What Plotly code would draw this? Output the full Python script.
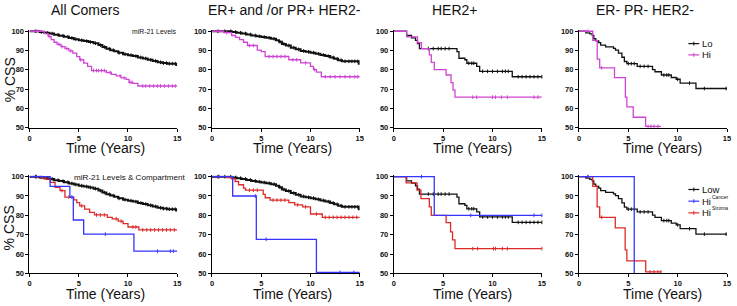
import plotly.graph_objects as go

# ---------------- data (time in years, % CSS) ----------------
panel_titles = ["All Comers", "ER+ and /or PR+ HER2-", "HER2+", "ER- PR- HER2-"]
x_title = "Time (Years)"
y_title = "% CSS"
x_ticks = [0, 5, 10, 15]
y_ticks = [50, 60, 70, 80, 90, 100]

# All comers
all_lo_t = [0, 1.0, 1.5, 2.0, 2.5, 3.0, 3.5, 4.0, 4.5, 5.0, 5.5, 6.0, 6.5, 7.0, 7.4, 7.8, 8.2, 8.6, 9.0, 9.5,
            10.0, 10.5, 11.0, 11.5, 12.0, 12.5, 13.0, 13.5, 14.0, 14.9]
all_lo_s = [100, 99.6, 99.2, 98.8, 98.2, 97.7, 97.1, 96.5, 95.9, 95.3, 94.9, 94.4, 93.8, 92.8, 91.8, 90.9, 90.2,
            89.6, 88.8, 88.1, 87.6, 87.1, 86.4, 85.9, 85.2, 84.6, 83.9, 83.5, 83.2, 82.5]
all_lo_c = [0.6, 1.2, 1.8, 2.3, 2.9, 3.4, 3.9, 4.3, 4.7, 5.3, 5.8, 6.2, 6.7, 7.2, 7.6, 8.1, 8.5, 9.1, 9.7, 10.3,
            10.8, 11.3, 11.8, 12.3, 12.8, 13.3, 13.6, 13.9, 14.2, 14.5, 14.8]

all_hi_t = [0, 1.5, 1.9, 2.2, 2.5, 2.8, 3.2, 3.6, 4.0, 4.4, 4.8, 5.1, 5.5, 5.9, 6.3, 7.8, 8.3, 8.8, 9.3, 9.8,
            10.1, 10.5, 11.0]
all_hi_s = [100, 98.8, 97.3, 95.6, 94.3, 93.2, 92.0, 91.0, 89.8, 88.6, 86.8, 85.2, 83.5, 81.8, 79.6, 78.6, 77.6,
            76.8, 75.8, 75.0, 73.5, 73.0, 71.6]
all_hi_c = [0.7, 0.9, 2.0, 3.0, 3.3, 3.8, 4.2, 5.2, 6.5, 6.8, 7.0, 7.3, 7.6, 8.2, 9.2, 9.6, 10.2, 10.4, 11.5,
            11.8, 12.2, 12.6, 13.0, 13.3, 13.7, 14.1, 14.5, 14.8]

all_stroma_t = [0, 1.2, 1.6, 2.1, 2.6, 3.1, 3.6, 4.5, 4.8, 5.1, 5.6, 6.1, 6.6, 7.9, 8.4, 9.0, 9.5, 10.0, 11.1]
all_stroma_s = [100, 99.4, 98.7, 97.0, 94.5, 92.8, 89.4, 88.0, 86.6, 84.9, 83.2, 81.5, 80.2, 79.0, 78.2, 77.0,
                75.7, 74.0, 72.5]
all_stroma_c = [0.7, 3.3, 4.0, 5.3, 6.8, 7.2, 7.6, 8.8, 9.3, 10.5, 10.8, 11.5, 11.9, 12.3, 12.7, 13.1, 13.5,
                13.9, 14.3, 14.7]

all_cancer_t = [0, 2.1, 4.1, 4.45, 5.5, 10.6]
all_cancer_s = [100, 95.0, 89.4, 77.6, 70.3, 61.5]
all_cancer_c = [0.7, 4.3, 7.7, 13.0, 14.3, 14.6]

# ER+ and/or PR+ HER2-
er_lo_t = [0, 2.0, 2.5, 3.0, 3.5, 4.0, 4.5, 5.0, 5.5, 6.0, 6.5, 6.8, 7.1, 7.5, 8.0, 8.5, 9.0, 9.5, 10.0, 10.5,
           11.0, 11.5, 12.0, 12.4, 12.8, 13.2, 14.9]
er_lo_s = [100, 99.6, 99.2, 98.8, 98.3, 97.8, 97.4, 97.0, 96.6, 96.1, 95.3, 94.5, 93.4, 92.6, 91.5, 90.6, 89.8,
           89.3, 88.9, 88.3, 87.7, 87.1, 86.4, 85.7, 85.0, 84.4, 83.2]
er_lo_c = [0.6, 1.3, 1.9, 2.4, 2.9, 3.4, 3.9, 4.4, 4.8, 5.3, 5.8, 6.3, 6.9, 7.3, 7.8, 8.3, 8.8, 9.3, 9.8, 10.3,
           10.8, 11.3, 11.8, 12.3, 12.7, 13.1, 13.5, 13.9, 14.2, 14.5, 14.8]

er_hi_t = [0, 1.2, 2.0, 2.4, 2.8, 3.2, 3.6, 4.6, 5.0, 5.4, 7.8, 9.0, 10.0, 10.3, 10.6, 11.1]
er_hi_s = [100, 99.3, 97.8, 96.8, 95.6, 94.3, 92.6, 90.2, 89.4, 86.9, 85.2, 83.6, 81.8, 80.1, 78.8, 76.4]
er_hi_c = [0.7, 1.5, 3.8, 4.2, 5.8, 6.2, 6.6, 7.0, 7.4, 8.2, 8.6, 9.5, 10.4, 11.5, 12.0, 12.5, 13.0, 13.5,
           14.0, 14.5, 14.8]

er_stroma_t = [0, 1.5, 2.0, 2.35, 2.7, 3.2, 3.4, 5.2, 5.4, 5.9, 7.8, 8.4, 9.2, 10.0, 11.2]
er_stroma_s = [100, 99.5, 98.8, 97.5, 95.8, 94.1, 93.0, 90.8, 89.1, 87.9, 86.6, 85.4, 84.4, 80.7, 79.0]
er_stroma_c = [0.7, 3.8, 4.2, 4.6, 6.2, 6.6, 7.0, 7.4, 8.7, 9.5, 10.6, 11.5, 11.9, 12.3, 12.7, 13.1, 13.5,
               13.9, 14.3, 14.7]

er_cancer_t = [0, 2.1, 4.5, 10.6]
er_cancer_s = [100, 90.0, 67.6, 50.5]
er_cancer_c = [0.7, 4.4, 5.5, 13.0, 14.4]

# HER2+
h2_lo_t = [0, 1.3, 1.8, 2.2, 2.4, 2.6, 6.4, 6.6, 7.2, 7.4, 8.4, 8.7, 12.0]
h2_lo_s = [100, 97.8, 96.6, 95.3, 93.6, 91.0, 89.4, 86.0, 85.2, 83.4, 81.8, 79.2, 76.4]
h2_lo_c = [3.5, 4.0, 4.5, 4.8, 5.2, 5.6, 7.6, 7.9, 8.1, 9.0, 9.5, 10.0, 10.5, 11.0, 11.3, 11.6, 12.6, 13.0,
           13.4, 13.8, 14.2, 14.6, 15.0]

h2_hi_t = [0, 1.3, 2.4, 2.8, 3.6, 3.8, 4.1, 5.3, 5.8, 6.0, 6.2]
h2_hi_s = [100, 97.1, 94.1, 91.0, 87.7, 83.8, 80.1, 77.3, 73.4, 69.5, 65.8]
h2_hi_c = [8.0, 8.4, 10.0, 10.3, 10.9, 11.5, 14.2, 14.6]

h2_stroma_t = [0, 1.25, 2.35, 2.75, 3.6, 3.8, 5.3, 5.75, 5.95, 6.2]
h2_stroma_s = [100, 96.8, 93.0, 88.6, 84.4, 80.0, 76.2, 71.5, 67.3, 62.8]
h2_stroma_c = [8.0, 8.5, 10.1, 10.3, 11.0, 11.5, 15.0]

h2_cancer_t = [0, 4.1]
h2_cancer_s = [100, 80.0]
h2_cancer_c = [2.8, 7.8, 14.2, 15.0]

# ER- PR- HER2-
tn_lo_t = [0, 0.7, 1.1, 1.35, 1.5, 1.7, 2.0, 2.2, 2.7, 3.5, 3.7, 4.0, 4.35, 4.6, 4.85, 5.9, 7.45, 7.7, 8.35,
           9.35, 9.85, 10.25, 11.85]
tn_lo_s = [100, 99.2, 98.6, 97.8, 96.1, 95.0, 94.1, 92.8, 91.9, 91.1, 90.2, 88.6, 86.5, 84.3, 83.2, 81.8, 80.1,
           79.0, 77.3, 76.0, 75.1, 73.1, 70.3]
tn_lo_c = [5.0, 5.3, 5.6, 6.2, 6.6, 7.0, 8.6, 8.9, 9.1, 10.0, 11.2, 12.7, 14.9]

tn_hi_t = [0, 1.4, 1.85, 2.1, 3.6, 4.7, 4.85, 5.5, 6.75]
tn_hi_s = [100, 95.3, 85.5, 81.0, 75.9, 65.8, 60.8, 55.4, 50.7]
tn_hi_c = [0.9, 2.3, 7.0, 7.3, 7.6, 8.0]
tn_hi_end = 8.3

tn_stroma_t = [0, 1.4, 1.84, 2.1, 3.68, 4.68, 4.85, 6.76]
tn_stroma_s = [100, 95.0, 84.4, 79.0, 73.5, 62.2, 56.5, 50.8]
tn_stroma_c = [0.9, 2.3, 7.2, 7.6, 8.0, 8.3]
tn_stroma_end = 8.36

tn_cancer_t = [0, 5.6]
tn_cancer_s = [100, 50.0]
tn_cancer_c = [0.9]

legend_top = ["Lo", "Hi"]
legend_bottom = ["Low", "Hi", "Hi"]
legend_bottom_sup = ["", "Cancer", "Stroma"]
note_top = "miR-21 Levels"
note_bottom = "miR-21 Levels & Compartment"

# ---------------- styling ----------------
BLACK = "#111111"
MAG = "#CF45D3"
RED = "#DD2A2A"
BLUE = "#3535FF"
FONT = "Liberation Sans, Arial, sans-serif"
W, H = 737, 306

cols = [(27.7, 176.7), (211.7, 360.7), (395.0, 544.3), (581.7, 731.0)]
rows = [(29.0, 128.0), (178.3, 277.7)]  # (y at 100, y at 50) in px
YTOP = 100.6

fig = go.Figure()


def step_at(ts, ss, t):
    v = ss[0]
    for ti, si in zip(ts, ss):
        if ti <= t:
            v = si
    return v


def add_curve(idx, ts, ss, cens, color, width, end=15.0):
    xa = "x" if idx == 1 else f"x{idx}"
    ya = "y" if idx == 1 else f"y{idx}"
    xs = list(ts) + [end]
    ys = list(ss) + [ss[-1]]
    fig.add_trace(go.Scatter(x=xs, y=ys, mode="lines", line=dict(color=color, width=width, shape="hv"),
                             xaxis=xa, yaxis=ya, showlegend=False, hoverinfo="skip"))
    cy = [step_at(ts, ss, c) for c in cens]
    fig.add_trace(go.Scatter(x=cens, y=cy, mode="markers", cliponaxis=False,
                             marker=dict(symbol="line-ns", size=2.6, line=dict(color=color, width=1)),
                             xaxis=xa, yaxis=ya, showlegend=False, hoverinfo="skip"))


# top row
add_curve(1, all_lo_t, all_lo_s, all_lo_c, BLACK, 2.0)
add_curve(1, all_hi_t, all_hi_s, all_hi_c, MAG, 1.3)
add_curve(2, er_lo_t, er_lo_s, er_lo_c, BLACK, 2.0)
add_curve(2, er_hi_t, er_hi_s, er_hi_c, MAG, 1.3)
add_curve(3, h2_lo_t, h2_lo_s, h2_lo_c, BLACK, 1.3)
add_curve(3, h2_hi_t, h2_hi_s, h2_hi_c, MAG, 1.3)
add_curve(4, tn_lo_t, tn_lo_s, tn_lo_c, BLACK, 1.3)
add_curve(4, tn_hi_t, tn_hi_s, tn_hi_c, MAG, 1.3, end=tn_hi_end)
# bottom row
add_curve(5, all_lo_t, all_lo_s, all_lo_c, BLACK, 2.0)
add_curve(5, all_stroma_t, all_stroma_s, all_stroma_c, RED, 1.3)
add_curve(5, all_cancer_t, all_cancer_s, all_cancer_c, BLUE, 1.3)
add_curve(6, er_lo_t, er_lo_s, er_lo_c, BLACK, 2.0)
add_curve(6, er_stroma_t, er_stroma_s, er_stroma_c, RED, 1.3)
add_curve(6, er_cancer_t, er_cancer_s, er_cancer_c, BLUE, 1.3)
add_curve(7, h2_lo_t, h2_lo_s, h2_lo_c, BLACK, 1.3)
add_curve(7, h2_stroma_t, h2_stroma_s, h2_stroma_c, RED, 1.3)
add_curve(7, h2_cancer_t, h2_cancer_s, h2_cancer_c, BLUE, 1.3)
add_curve(8, tn_lo_t, tn_lo_s, tn_lo_c, BLACK, 1.3)
add_curve(8, tn_stroma_t, tn_stroma_s, tn_stroma_c, RED, 1.3, end=tn_stroma_end)
add_curve(8, tn_cancer_t, tn_cancer_s, tn_cancer_c, BLUE, 1.3, end=tn_cancer_t[-1])

layout = dict(width=W, height=H, margin=dict(l=0, r=0, t=0, b=0), paper_bgcolor="white",
              plot_bgcolor="white", font=dict(family=FONT, color="#111"))
axis_common = dict(showline=True, linecolor="black", linewidth=1, ticks="outside", ticklen=3, tickwidth=1,
                   tickcolor="black", showgrid=False, zeroline=False,
                   tickfont=dict(size=7.5, family=FONT, color="#111", weight="bold"))
idx = 1
for r, (y100, y50) in enumerate(rows):
    ypu = (y50 - y100) / 50.0
    ytop_px = y100 - (YTOP - 100) * ypu
    for c, (x0, x1) in enumerate(cols):
        sx = "" if idx == 1 else str(idx)
        layout[f"xaxis{sx}"] = dict(axis_common, domain=[x0 / W, x1 / W], range=[0, 15], tickvals=x_ticks,
                                    anchor=f"y{sx}")
        layout[f"yaxis{sx}"] = dict(axis_common, domain=[1 - y50 / H, 1 - ytop_px / H], range=[50, YTOP],
                                    tickvals=y_ticks, anchor=f"x{sx}")
        idx += 1
fig.update_layout(**layout)


def px(x, y):
    return x / W, 1 - y / H


ann = []


def text(s, x, y, size, xanchor="center", yanchor="middle", angle=0, color="#111"):
    ax, ay = px(x, y)
    ann.append(dict(text=s, x=ax, y=ay, xref="paper", yref="paper", xanchor=xanchor, yanchor=yanchor,
                    showarrow=False, textangle=angle, borderpad=0,
                    font=dict(size=size, family=FONT, color=color)))


# panel titles
for t, cx in zip(panel_titles, [84, 285, 457, 648]):
    text(t, cx, 7.5, 14)
# x titles
for cx in [104, 293, 474, 666]:
    text(x_title, cx, 149, 14)
    text(x_title, cx, 298.5, 14)
# y titles
text(y_title, 7.5, 79, 14, angle=-90)
text(y_title, 7.5, 231, 14, angle=-90)
# notes
text(note_top, 177.5, 29.5, 6.9, xanchor="right")
text(note_bottom, 71.5, 179, 8.1, xanchor="left")

# manual legends
shapes = []


def legend_item(y, color, label, sup=""):
    x0, x1 = 692, 703
    a0 = px(x0, y)
    a1 = px(x1, y)
    shapes.append(dict(type="line", xref="paper", yref="paper", x0=a0[0], x1=a1[0], y0=a0[1], y1=a1[1],
                       line=dict(color=color, width=1.2)))
    m = (x0 + x1) / 2
    t0 = px(m, y - 2)
    t1 = px(m, y + 2)
    shapes.append(dict(type="line", xref="paper", yref="paper", x0=t0[0], x1=t1[0], y0=t0[1], y1=t1[1],
                       line=dict(color=color, width=1)))
    text(label, 705, y, 9.5, xanchor="left")
    if sup:
        text(sup, 715, y - 4.5, 5, xanchor="left")


legend_item(41.7, BLACK, legend_top[0])
legend_item(53.3, MAG, legend_top[1])
legend_item(191.5, BLACK, legend_bottom[0], legend_bottom_sup[0])
legend_item(203.5, BLUE, legend_bottom[1], legend_bottom_sup[1])
legend_item(215.5, RED, legend_bottom[2], legend_bottom_sup[2])

fig.update_layout(annotations=ann, shapes=shapes)
fig.write_html("out.html", config={"displayModeBar": False},
               post_script="document.body.style.margin='0px';")
